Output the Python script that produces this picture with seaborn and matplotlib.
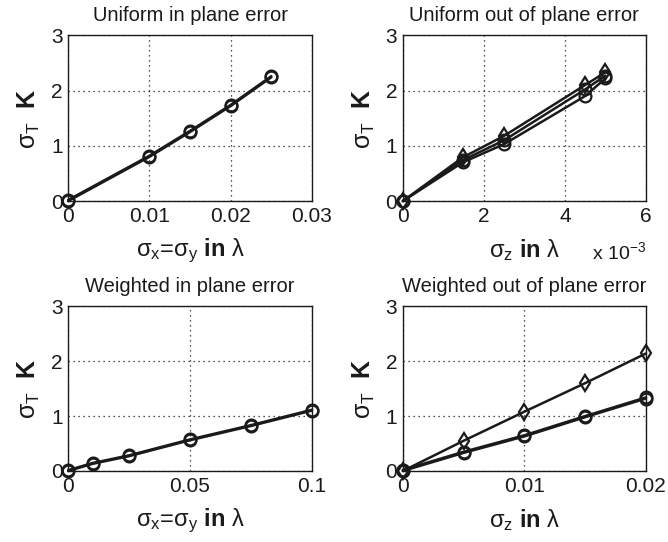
import matplotlib
matplotlib.use("Agg")
import matplotlib.pyplot as plt
import seaborn as sns

# --- data ---
# top-left: uniform in-plane error
uin_x = [0, 0.01, 0.015, 0.02, 0.025]
uin_y = [0, 0.80, 1.25, 1.72, 2.24]

# top-right: uniform out-of-plane error (three nearly overlapping runs)
uout_x = [0, 0.00148, 0.0025, 0.0045, 0.005]
uout_y1 = [0, 0.70, 1.03, 1.90, 2.22]
uout_y2 = [0, 0.79, 1.18, 2.10, 2.33]
uout_y3 = [0, 0.74, 1.10, 2.02, 2.27]

# bottom-left: weighted in-plane error
win_x = [0, 0.01, 0.025, 0.05, 0.075, 0.1]
win_y = [0, 0.13, 0.27, 0.56, 0.82, 1.10]

# bottom-right: weighted out-of-plane error
wout_x = [0, 0.005, 0.01, 0.015, 0.02]
wout_hi = [0, 0.55, 1.08, 1.60, 2.14]
wout_lo = [0, 0.33, 0.63, 0.98, 1.32]

titles = ["Uniform in plane error", "Uniform out of plane error",
          "Weighted in plane error", "Weighted out of plane error"]

sns.set_theme(style="white")
plt.rcParams["font.family"] = ["Liberation Sans", "DejaVu Sans"]
plt.rcParams["text.color"] = "k"
plt.rcParams["axes.labelcolor"] = "k"
plt.rcParams["mathtext.fontset"] = "custom"
plt.rcParams["mathtext.rm"] = "Liberation Sans"
plt.rcParams["mathtext.it"] = "Liberation Sans:italic"
plt.rcParams["mathtext.bf"] = "Liberation Sans:bold"

fig = plt.figure(figsize=(6.68, 5.42), dpi=100)
positions = [
    [0.102, 0.629, 0.365, 0.306],
    [0.603, 0.629, 0.364, 0.306],
    [0.102, 0.131, 0.365, 0.304],
    [0.603, 0.131, 0.364, 0.304],
]
axes = [fig.add_axes(p) for p in positions]

line_kw = dict(color="k", linewidth=1.8, markersize=8.5, markerfacecolor="none",
               markeredgecolor="k", markeredgewidth=1.6, sort=False, clip_on=False)

ylab = r"σ$_{\rm T}$  $\mathbf{K}$"
xlab_in = r"σ$_{\rm x}$=σ$_{\rm y}$ $\mathbf{in}$ λ"
xlab_out = r"σ$_{\rm z}$ $\mathbf{in}$ λ"

# top-left
ax = axes[0]
sns.lineplot(x=uin_x, y=uin_y, marker="o", ax=ax, **line_kw)
sns.lineplot(x=uin_x, y=[v + 0.02 for v in uin_y], marker="o", ax=ax, **line_kw)
ax.set_xlim(0, 0.03)
ax.set_xticks([0, 0.01, 0.02, 0.03])
ax.set_xticklabels(["0", "0.01", "0.02", "0.03"])
ax.set_xlabel(xlab_in)

# top-right
ax = axes[1]
sns.lineplot(x=uout_x, y=uout_y1, marker="o", ax=ax, **line_kw)
sns.lineplot(x=uout_x, y=uout_y2, marker="d", ax=ax, **line_kw)
sns.lineplot(x=uout_x, y=uout_y3, marker="o", ax=ax, **line_kw)
ax.set_xlim(0, 0.006)
ax.set_xticks([0, 0.002, 0.004, 0.006])
ax.set_xticklabels(["0", "2", "4", "6"])
ax.set_xlabel(xlab_out)
ax.text(1.0, -0.31, r"x 10$^{-3}$", transform=ax.transAxes, ha="right",
        va="center", fontsize=14)

# bottom-left
ax = axes[2]
sns.lineplot(x=win_x, y=win_y, marker="o", ax=ax, **line_kw)
sns.lineplot(x=win_x, y=[v + 0.015 for v in win_y], marker="o", ax=ax, **line_kw)
ax.set_xlim(0, 0.1)
ax.set_xticks([0, 0.05, 0.1])
ax.set_xticklabels(["0", "0.05", "0.1"])
ax.set_xlabel(xlab_in)

# bottom-right
ax = axes[3]
sns.lineplot(x=wout_x, y=wout_hi, marker="d", ax=ax, **line_kw)
sns.lineplot(x=wout_x, y=wout_lo, marker="o", ax=ax, **line_kw)
sns.lineplot(x=wout_x, y=[v + 0.02 for v in wout_lo], marker="o", ax=ax, **line_kw)
ax.set_xlim(0, 0.02)
ax.set_xticks([0, 0.01, 0.02])
ax.set_xticklabels(["0", "0.01", "0.02"])
ax.set_xlabel(xlab_out)

for ax, t in zip(axes, titles):
    ax.set_ylim(0, 3)
    ax.set_yticks([0, 1, 2, 3])
    ax.set_yticklabels(["0", "1", "2", "3"])
    ax.set_title(t, fontsize=14.5, pad=10, color="k")
    ax.set_ylabel(ylab, fontsize=18, labelpad=6)
    ax.xaxis.label.set_size(17)
    ax.xaxis.labelpad = 8
    ax.tick_params(direction="in", length=4, width=0.8, labelsize=15,
                   colors="k", pad=4)
    ax.grid(True, color="k", linestyle=(0, (1, 3)), linewidth=0.9)
    for s in ax.spines.values():
        s.set_color("k")
        s.set_linewidth(1.0)
        s.set_zorder(0.5)

fig.savefig("out.png", dpi=100)
